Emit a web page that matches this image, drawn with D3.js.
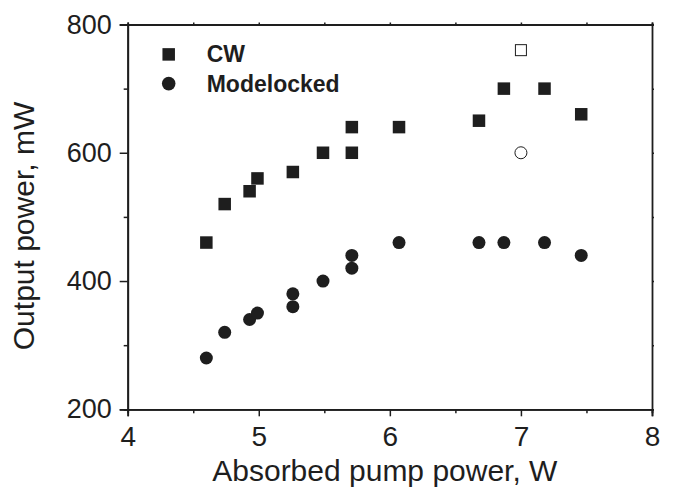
<!DOCTYPE html>
<html>
<head>
<meta charset="utf-8">
<script src="https://cdn.jsdelivr.net/npm/d3@7"></script>
<style>
  html, body { margin: 0; padding: 0; background: #fff; }
  svg { display: block; }
</style>
</head>
<body>
<svg id="chart"></svg>
<script>
// Data
const cwPump = [4.60, 4.74, 4.93, 4.99, 5.26, 5.49, 5.71, 5.71, 6.07, 6.68, 6.87, 7.18, 7.46];
const cwPower = [460, 520, 540, 560, 570, 600, 640, 600, 640, 650, 700, 700, 660];
const mlPump = [4.60, 4.74, 4.93, 4.99, 5.26, 5.26, 5.49, 5.71, 5.71, 6.07, 6.68, 6.87, 7.18, 7.46];
const mlPower = [280, 320, 340, 350, 380, 360, 400, 440, 420, 460, 460, 460, 460, 440];
// open symbols
const openCwPump = [7.0];
const openCwPower = [760];
const openMlPump = [7.0];
const openMlPower = [600];

const xTicks = [4, 5, 6, 7, 8];
const xMinor = [4.5, 5.5, 6.5, 7.5];
const yTicks = [200, 400, 600, 800];
const yMinor = [300, 500, 700];
const legendLabels = ['CW', 'Modelocked'];

function drawChart() {
    const width = 675;
    const height = 495;
    const margin = { top: 24.5, left: 127.7, right: 23, bottom: 85.7 };
    const innerW = width - margin.left - margin.right;
    const innerH = height - margin.top - margin.bottom;
    const ink = '#1e1e1e';
    const font = "'Liberation Sans', Arial, Helvetica, sans-serif";

    const svg = d3.select('#chart')
        .attr('width', width)
        .attr('height', height);

    const g = svg.append('g')
        .attr('transform', `translate(${margin.left}, ${margin.top})`);

    const x = d3.scaleLinear().domain([4, 8]).range([0, innerW]);
    const y = d3.scaleLinear().domain([200, 800]).range([innerH, 0]);

    // Axes: major with labels, minor without
    const styleAxis = size => sel => {
        sel.select('.domain').attr('stroke', ink).attr('stroke-width', 1.8);
        sel.selectAll('.tick line').attr('stroke', ink).attr('stroke-width', 1.5);
        sel.selectAll('.tick text')
            .attr('fill', ink)
            .style('font-family', font)
            .style('font-size', size + 'px');
    };

    g.append('g')
        .attr('transform', `translate(0, ${innerH})`)
        .call(d3.axisBottom(x).tickValues(xMinor).tickSize(4).tickFormat(''))
        .call(styleAxis(28));
    g.append('g')
        .attr('transform', `translate(0, ${innerH})`)
        .call(d3.axisBottom(x).tickValues(xTicks).tickSize(7).tickPadding(10).tickFormat(d3.format('d')))
        .call(styleAxis(28));

    g.append('g')
        .call(d3.axisLeft(y).tickValues(yMinor).tickSize(4).tickFormat(''))
        .call(styleAxis(27));
    g.append('g')
        .call(d3.axisLeft(y).tickValues(yTicks).tickSize(8).tickPadding(8).tickFormat(d3.format('d')))
        .call(styleAxis(27));

    // Top and right frame with tiny ticks
    g.append('g')
        .call(d3.axisTop(x).tickValues(xTicks.concat(xMinor)).tickSize(2).tickFormat(''))
        .call(styleAxis(27));
    g.append('g')
        .attr('transform', `translate(${innerW}, 0)`)
        .call(d3.axisRight(y).tickValues(yTicks.concat(yMinor)).tickSize(2).tickFormat(''))
        .call(styleAxis(27));

    // Axis titles
    svg.append('text')
        .attr('x', margin.left + innerW / 2 - 5)
        .attr('y', 481)
        .attr('text-anchor', 'middle')
        .attr('fill', ink)
        .style('font-family', font)
        .style('font-size', '30px')
        .text('Absorbed pump power, W');

    svg.append('text')
        .attr('transform', 'translate(34, 226) rotate(-90)')
        .attr('text-anchor', 'middle')
        .attr('fill', ink)
        .style('font-family', font)
        .style('font-size', '30px')
        .text('Output power, mW');

    const sq = 12.5;
    const r = 6.5;

    // CW squares
    g.selectAll('.cw')
        .data(d3.zip(cwPump, cwPower))
        .join('rect')
        .attr('x', d => x(d[0]) - sq / 2)
        .attr('y', d => y(d[1]) - sq / 2)
        .attr('width', sq)
        .attr('height', sq)
        .attr('fill', ink);

    // Modelocked circles
    g.selectAll('.ml')
        .data(d3.zip(mlPump, mlPower))
        .join('circle')
        .attr('cx', d => x(d[0]))
        .attr('cy', d => y(d[1]))
        .attr('r', r)
        .attr('fill', ink);

    // Open symbols
    g.selectAll('.open-cw')
        .data(d3.zip(openCwPump, openCwPower))
        .join('rect')
        .attr('x', d => x(d[0]) - 5.5)
        .attr('y', d => y(d[1]) - 5.5)
        .attr('width', 11)
        .attr('height', 11)
        .attr('fill', '#fff')
        .attr('stroke', ink)
        .attr('stroke-width', 1);

    g.selectAll('.open-ml')
        .data(d3.zip(openMlPump, openMlPower))
        .join('circle')
        .attr('cx', d => x(d[0]))
        .attr('cy', d => y(d[1]))
        .attr('r', 6)
        .attr('fill', '#fff')
        .attr('stroke', ink)
        .attr('stroke-width', 1);

    // Legend
    const legend = svg.append('g').attr('transform', 'translate(168.7, 54.4)');
    legend.append('rect')
        .attr('x', -sq / 2).attr('y', -sq / 2)
        .attr('width', sq).attr('height', sq)
        .attr('fill', ink);
    legend.append('circle')
        .attr('cy', 29.2)
        .attr('r', 6.8)
        .attr('fill', ink);
    legend.selectAll('text')
        .data(legendLabels)
        .join('text')
        .attr('x', 38)
        .attr('y', (d, i) => i * 30.4 + 7.6)
        .attr('fill', ink)
        .style('font-family', font)
        .style('font-size', '23px')
        .style('font-weight', 'bold')
        .text(d => d);
}

drawChart();
</script>
</body>
</html>
